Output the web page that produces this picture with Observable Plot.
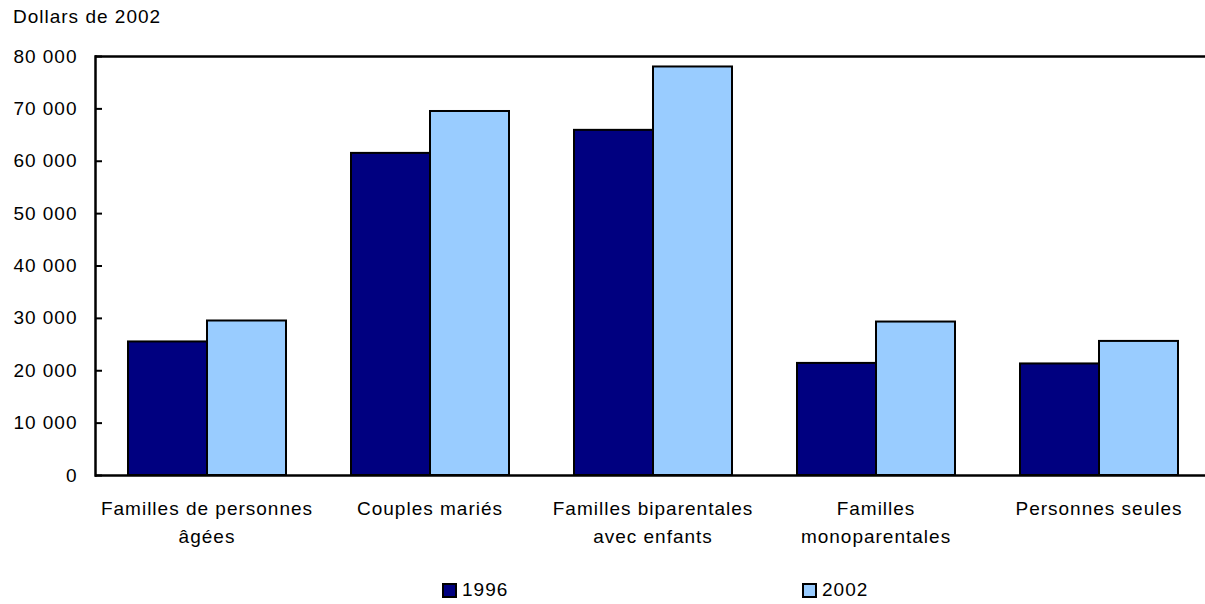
<!DOCTYPE html>
<html>
<head>
<meta charset="utf-8">
<script src="https://cdn.jsdelivr.net/npm/d3@7"></script>
<script src="https://cdn.jsdelivr.net/npm/@observablehq/plot@0.6"></script>
<style>
  html, body { margin: 0; padding: 0; background: #fff; overflow: hidden; }
  #wrap { position: relative; width: 1205px; height: 604px; overflow: hidden; font-family: "Liberation Sans", Arial, sans-serif; font-size: 19px; letter-spacing: 1px; color: #000; }
  #title { position: absolute; left: 13px; top: 6px; line-height: 22px; }
  #chart { position: absolute; left: 0; top: 0; width: 1212px; }
  #chart svg { max-width: none !important; }
  .leg { position: absolute; top: 579px; display: flex; align-items: center; line-height: 22px; }
  .sw { width: 15px; height: 15px; box-sizing: border-box; border: 2px solid #000; margin-right: 5px; }
</style>
</head>
<body>
<div id="wrap">
  <div id="chart"></div>
  <div id="title">Dollars de 2002</div>
  <div id="legend"></div>
</div>
<script>
const categories = ["Familles de personnes\nâgées", "Couples mariés", "Familles biparentales\navec enfants", "Familles\nmonoparentales", "Personnes seules"];
const years = ["1996", "2002"];
const values1996 = [25500, 61500, 65900, 21400, 21300];
const values2002 = [29500, 69500, 78000, 29300, 25600];
const yTicks = [0, 10000, 20000, 30000, 40000, 50000, 60000, 70000, 80000];
const colors = ["#000080", "#99ccff"];

const data = [];
categories.forEach((c, i) => {
  data.push({cat: c, year: years[0], value: values1996[i]});
  data.push({cat: c, year: years[1], value: values2002[i]});
});

const fmt = d => d3.format(",")(d).replace(/,/g, " ");

const chart = Plot.plot({
  width: 1212,
  height: 560,
  marginLeft: 93,
  marginRight: 0,
  marginTop: 56,
  marginBottom: 85,
  style: {fontFamily: "'Liberation Sans', Arial, sans-serif", fontSize: "19px", letterSpacing: "1px", color: "#000", background: "transparent", maxWidth: "none"},
  fx: {domain: categories, padding: 0, label: null},
  x: {domain: years, paddingInner: 0, paddingOuter: 0.4, axis: null},
  y: {domain: [0, 80000], label: null},
  color: {domain: years, range: colors},
  marks: [
    Plot.barY(data, {fx: "cat", x: "year", y: "value", fill: "year", stroke: "#000", strokeWidth: 2}),
    Plot.ruleY([0, 80000], {stroke: "#000", strokeWidth: 2.5}),
    Plot.frame({anchor: "left", facetAnchor: "left", stroke: "#000", strokeWidth: 2.5}),
    Plot.axisY({ticks: yTicks, tickFormat: fmt, tickSize: -7, tickPadding: 25, strokeWidth: 2, stroke: "#000", label: null, fontSize: 19}),
    Plot.axisFx({anchor: "bottom", tickSize: 0, tickPadding: 19, lineHeight: 1.5, label: null, fontSize: 19})
  ]
});
document.getElementById("chart").appendChild(chart);

const legend = document.getElementById("legend");
const legX = [442, 802];
years.forEach((y, i) => {
  const item = document.createElement("div");
  item.className = "leg";
  item.style.left = legX[i] + "px";
  const sw = document.createElement("div");
  sw.className = "sw";
  sw.style.background = colors[i];
  const t = document.createElement("span");
  t.textContent = y;
  item.appendChild(sw);
  item.appendChild(t);
  legend.appendChild(item);
});
</script>
</body>
</html>
